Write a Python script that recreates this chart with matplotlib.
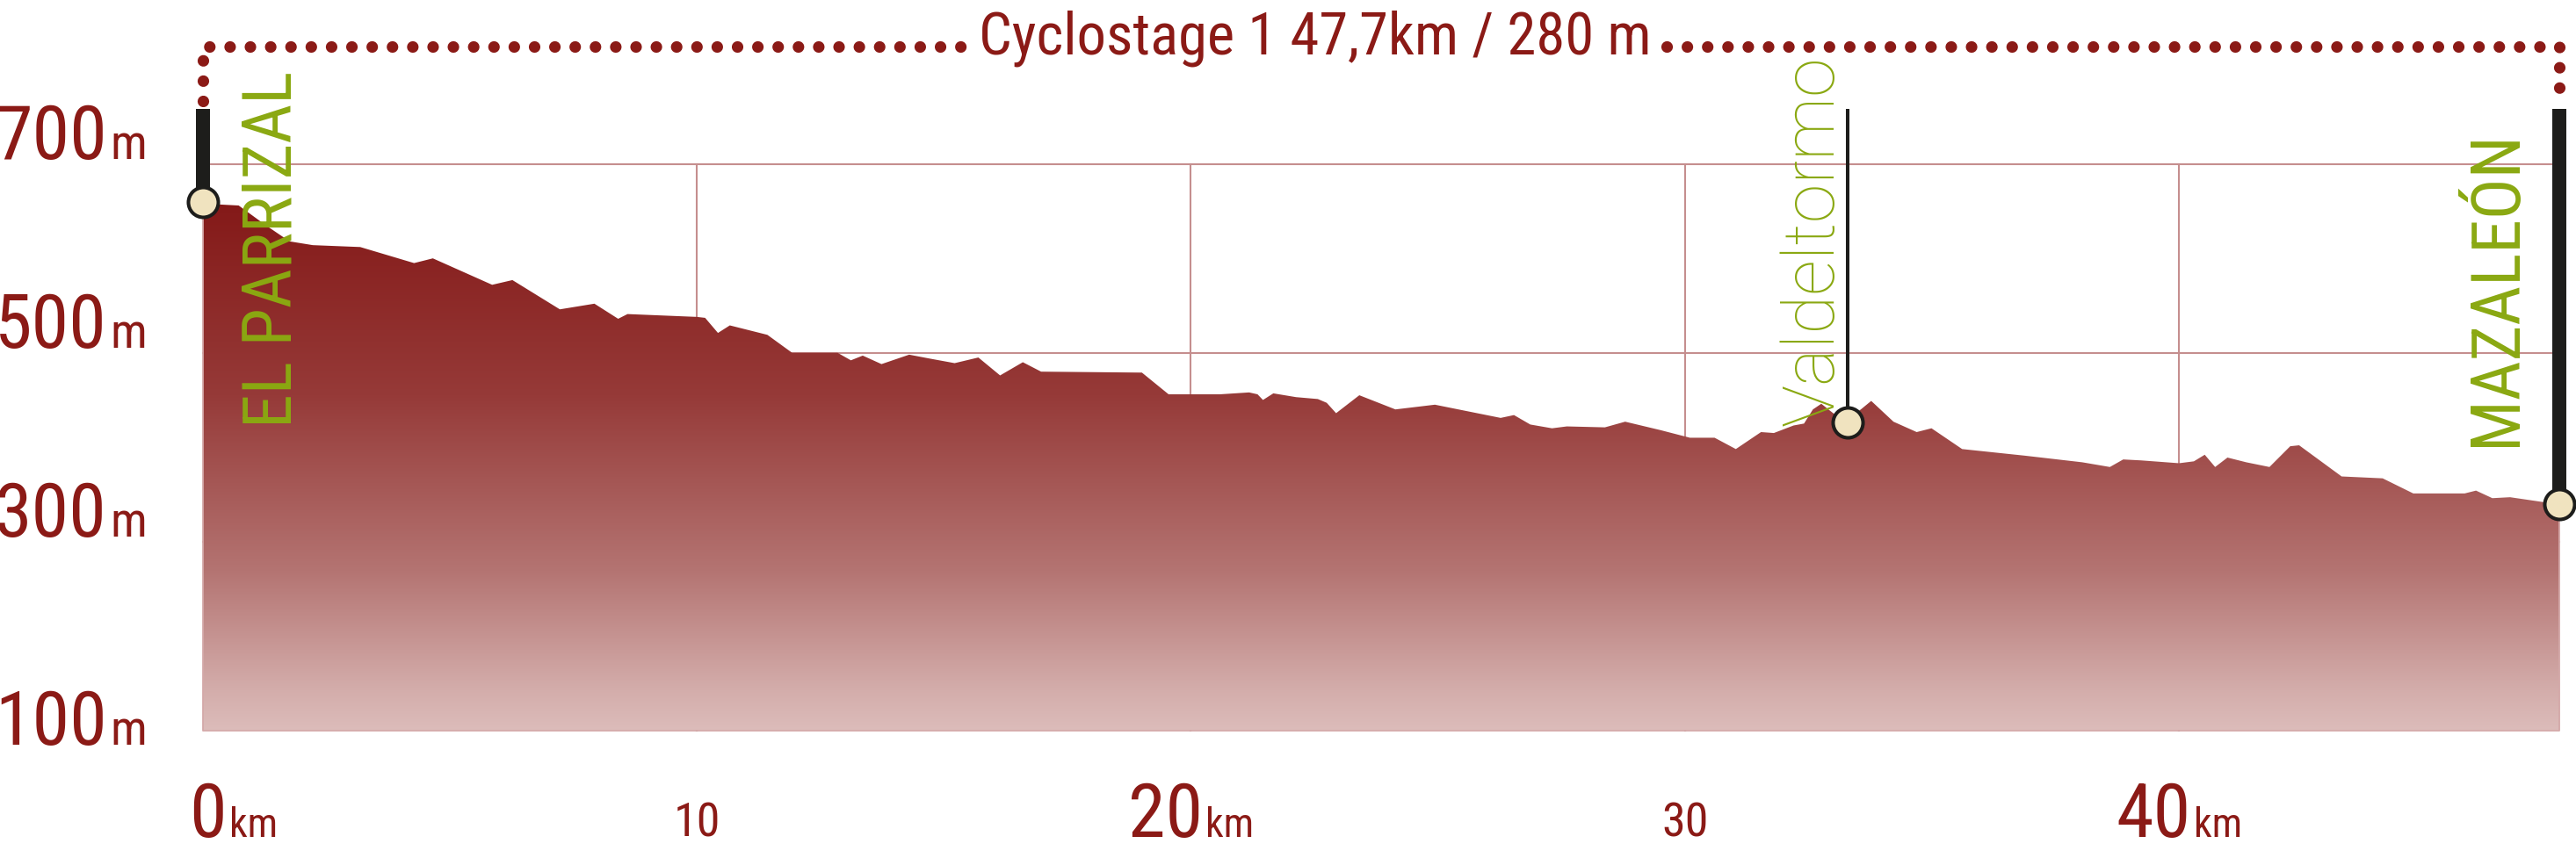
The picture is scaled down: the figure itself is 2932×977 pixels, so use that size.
"""
Elevation profile for cyclostage 1: El Parrizal -> Valdeltormo -> Mazaleon
"""

import numpy as np
import matplotlib.pyplot as plt
from matplotlib.patches import Polygon

# Profile: distance (km) and elevation (m)
km = [0, 0.73, 1.28, 1.76, 2.23, 3.19, 4.28, 4.66, 5.86, 6.27, 7.23, 7.93,
      8.41, 8.60, 10.0, 10.17, 10.43, 10.67, 11.43, 11.93, 12.85, 13.12,
      13.36, 13.74, 14.30, 14.70, 15.22, 15.70, 16.14, 16.60, 16.97, 19.01,
      19.55, 20.59, 21.18, 21.35, 21.46, 21.67, 22.13, 22.57, 22.75, 22.94,
      23.41, 24.14, 24.94, 26.27, 26.54, 26.87, 27.31, 27.61, 28.38, 28.79,
      29.51, 30.10, 30.60, 31.03, 31.54, 31.80, 32.20, 32.41, 32.59, 32.76,
      33.0, 33.3, 33.56, 33.77, 34.22, 34.69, 34.99, 35.61, 36.88, 38.04,
      38.60, 38.87, 39.23, 40.0, 40.3, 40.52, 40.73, 40.98, 41.36, 41.83,
      42.25, 42.43, 43.29, 44.12, 44.74, 45.78, 46.01, 46.34, 46.70, 47.35,
      47.7]
elev = [658, 656, 635, 618, 614, 612, 595, 600, 572, 577, 546, 552,
        536, 541, 538, 537, 521, 529, 519, 500, 500, 492,
        497, 488, 498, 494, 489, 495, 476, 490, 480, 479,
        456, 456, 458, 456, 450, 457, 453, 451, 447, 436,
        455, 440, 445, 431, 434, 424, 420, 422, 421, 427,
        418, 410, 410, 398, 416, 415, 423, 425, 440, 446,
        436, 430, 440, 449, 427, 416, 420, 398, 391, 384,
        379, 387, 386, 383, 385, 392, 379, 389, 384, 379,
        401, 402, 369, 367, 351, 351, 354, 346, 347, 342,
        340]

y_ticks = [100, 300, 500, 700]
x_major = [0, 20, 40]
x_minor = [10, 30]

towns = ["EL PARRIZAL", "Valdeltormo", "MAZALEÓN"]
town_km = [0, 33.3, 47.7]
town_elev = [660, 426, 340]

title = "Cyclostage 1 47,7km / 280 m"

# colours
RED = '#8B1A16'
GREEN = '#8AA811'
GRID = '#C58E8E'
BAR = '#1D1D1B'
CREAM = '#F0E3BF'
NARROW = ['Roboto Condensed', 'DejaVu Sans']

# pixel layout of the reference (2932x977)
W, H = 2932, 977
X0_PX, PX_PER_KM = 230.6, 56.24
Y700_PX, PX_PER_M = 186.7, 1.075
xmin = -X0_PX / PX_PER_KM
xmax = (W - X0_PX) / PX_PER_KM
ytop = 700 + Y700_PX / PX_PER_M
ybot = 700 - (H - Y700_PX) / PX_PER_M

fig = plt.figure(figsize=(W / 100, H / 100), dpi=100)
ax = fig.add_axes([0, 0, 1, 1])
ax.axis('off')

end_km = km[-1]
base = y_ticks[0]

# grid
for v in y_ticks[1:]:
    ax.plot([0, end_km], [v, v], color=GRID, lw=1.5, zorder=1)
for v in x_minor + x_major[1:]:
    ax.plot([v, v], [base, y_ticks[-1]], color=GRID, lw=1.5, zorder=1)

# gradient filled profile
grad_elev = [100, 145, 269, 455, 660]
grad_rgb = np.array([(220, 188, 186), (211, 172, 170), (180, 116, 114),
                     (150, 58, 56), (132, 25, 24)]) / 255
ys = np.linspace(base, max(elev) + 2, 500)
img = np.stack([np.interp(ys, grad_elev, grad_rgb[:, i]) for i in range(3)],
               axis=-1)[:, None, :]
im = ax.imshow(img, extent=[0, end_km, base, max(elev) + 2], origin='lower',
               aspect='auto', zorder=2, interpolation='bilinear')
verts = [(0, base)] + list(zip(km, elev)) + [(end_km, base)]
poly = Polygon(verts, closed=True, facecolor='none', edgecolor='none',
               transform=ax.transData)
ax.add_patch(poly)
im.set_clip_path(poly)

# frame on the lower edges
ax.plot([0, 0, end_km, end_km], [elev[0], base, base, elev[-1]],
        color='#D4A9A9', lw=1.3, zorder=2.5)

# y labels
for v in y_ticks:
    yb = v + 5 if v > base else v - 15
    ax.text(-1.93, yb, str(v), color=RED, fontsize=62, family=NARROW,
            ha='right', va='baseline')
    ax.text(-1.87, yb, 'm', color=RED, fontsize=40, family=NARROW,
            ha='left', va='baseline')

# x labels
xb = -12.4
for v in x_major:
    off = 0.49 if v == 0 else 0.24
    ax.text(v + off, xb, str(v), color=RED, fontsize=62, family=NARROW,
            ha='right', va='baseline')
    ax.text(v + off + 0.05, xb, 'km', color=RED, fontsize=33, family=NARROW,
            ha='left', va='baseline')
for v in x_minor:
    ax.text(v, xb, str(v), color=RED, fontsize=39, family=NARROW,
            ha='center', va='baseline')

# town names
ax.text(town_km[0] + 1.80, 421, towns[0], color=GREEN, fontsize=56,
        family=NARROW, rotation=90, rotation_mode='anchor',
        ha='left', va='baseline', zorder=3)
ax.text(town_km[1] - 0.29, 422.5, towns[1], color=GREEN, fontsize=58,
        family=['Roboto', 'DejaVu Sans'], fontweight='light', rotation=90,
        rotation_mode='anchor', ha='left', va='baseline', zorder=3)
ax.text(town_km[2] - 0.89, 401, towns[2], color=GREEN, fontsize=56,
        family=NARROW, rotation=90, rotation_mode='anchor',
        ha='left', va='baseline', zorder=3)

# town markers
bar_top = 758
for i, (tk, te) in enumerate(zip(town_km, town_elev)):
    lw = 2.9 if i == 1 else 11.5
    ax.plot([tk, tk], [te, bar_top], color=BAR, lw=lw,
            solid_capstyle='butt', zorder=4)
    ax.plot(tk, te, 'o', ms=24.5, mfc=CREAM, mec=BAR, mew=2.9, zorder=5)

ax.set_xlim(xmin, xmax)
ax.set_ylim(ybot, ytop)

# title and dotted bracket (gap sized from the rendered title)
t = ax.text(22.51, 816, title, color=RED, fontsize=48, family=NARROW,
            ha='center', va='baseline', zorder=5)
fig.canvas.draw()
bb = t.get_window_extent().transformed(ax.transData.inverted())
gap = 18 / PX_PER_KM
line_y = 824.4
dots = dict(color=RED, lw=9.5, linestyle=(0, (0.001, 1.75)),
            dash_capstyle='round', solid_capstyle='round', zorder=5)
ax.plot([0, 0, bb.x0 - gap], [767, line_y, line_y], **dots)
ax.plot([bb.x1 + gap, end_km, end_km], [line_y, line_y, 776], **dots)

ax.set_xlim(xmin, xmax)
ax.set_ylim(ybot, ytop)

plt.savefig('out.png', dpi=100)
